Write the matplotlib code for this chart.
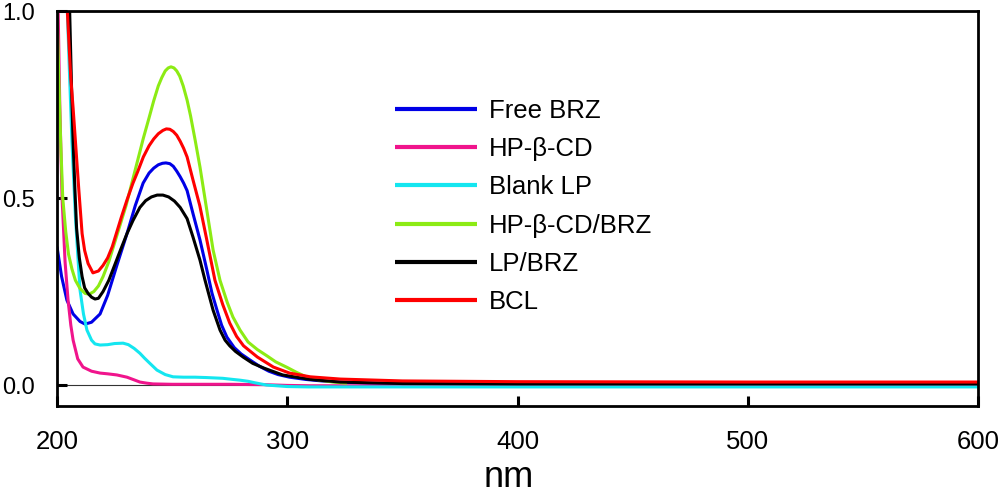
import matplotlib
matplotlib.use("Agg")
import matplotlib.pyplot as plt

plt.rcParams['font.family'] = ['Liberation Sans', 'DejaVu Sans']

# wavelength (nm) / absorbance pairs
free_brz_nm = [200, 202, 204.3, 207, 210, 212.2, 215, 218.7, 222, 226, 230.4, 234, 237.4, 240, 242,
               244, 245.8, 247.3, 249, 250.5, 252, 253.5, 255, 256.5, 259, 262.1, 265, 267.3, 269.5,
               271.5, 273.8, 277, 280, 283.8, 288, 292, 296, 301, 308, 315, 323, 335, 350, 400, 500, 600]
free_brz_abs = [0.37, 0.29, 0.227, 0.19, 0.17, 0.163, 0.168, 0.19, 0.24, 0.32, 0.405, 0.48, 0.54, 0.567, 0.58,
                0.589, 0.593, 0.594, 0.592, 0.585, 0.572, 0.557, 0.54, 0.52, 0.46, 0.388, 0.31, 0.246, 0.2,
                0.16, 0.128, 0.1, 0.083, 0.067, 0.05, 0.037, 0.028, 0.021, 0.015, 0.011, 0.008, 0.005, 0.004,
                0.003, 0.003, 0.003]

hpcd_nm = [200.5, 201.2, 202.2, 203.5, 204.8, 206, 207, 209, 211.3, 215, 218.7, 222, 226, 230.4,
           233, 236, 239, 241.7, 250, 260, 275, 290, 300, 310, 350, 450, 600]
hpcd_abs = [1.0, 0.75, 0.5, 0.33, 0.227, 0.16, 0.12, 0.07, 0.048, 0.037, 0.032, 0.03, 0.027, 0.021,
            0.015, 0.008, 0.005, 0.003, 0.002, 0.002, 0.002, 0.001, -0.001, -0.002, -0.002, -0.002, -0.002]

blank_lp_nm = [204.5, 205.5, 206.5, 208, 209, 210, 211.5, 213, 215, 216.5, 218.7, 222, 225, 228.7,
               231, 233.5, 236, 238, 240, 243.4, 247, 250.4, 255, 260, 265, 272, 276.4, 279.5,
               283, 286, 291, 300, 309, 350, 450, 600]
blank_lp_abs = [1.0, 0.82, 0.65, 0.45, 0.35, 0.254, 0.19, 0.147, 0.12, 0.11, 0.107, 0.108, 0.111, 0.112,
                0.108, 0.098, 0.085, 0.072, 0.06, 0.04, 0.028, 0.022, 0.021, 0.021, 0.02, 0.018, 0.015, 0.013,
                0.01, 0.006, 0.0, -0.004, -0.005, -0.005, -0.005, -0.005]

hpcd_brz_nm = [200, 200.8, 201.6, 202.5, 203.8, 205, 206.5, 208, 210, 212.2, 214, 216, 218, 220, 222.5,
               225, 227.5, 230, 232.5, 235, 237.5, 240, 242, 244, 245.5, 247, 248.3, 249.5, 250.8,
               252, 253.3, 254.8, 256.5, 258, 260, 262.1, 265, 267.8, 270.8, 274, 276.4, 279.5, 283,
               287, 291.2, 295, 300, 304, 308.6, 314, 320, 326]
hpcd_brz_abs = [1.0, 0.82, 0.65, 0.5, 0.41, 0.35, 0.31, 0.28, 0.258, 0.245, 0.243, 0.25, 0.265, 0.29, 0.33,
                0.38, 0.43, 0.48, 0.54, 0.6, 0.66, 0.715, 0.76, 0.8, 0.822, 0.84, 0.848, 0.851, 0.848,
                0.84, 0.826, 0.8, 0.762, 0.72, 0.655, 0.583, 0.47, 0.361, 0.28, 0.22, 0.182, 0.147, 0.115,
                0.095, 0.078, 0.062, 0.047, 0.034, 0.021, 0.013, 0.008, 0.005]

lp_brz_nm = [205.5, 206.3, 207, 207.8, 208.5, 209.7, 210.9, 212, 213.5, 215, 216.5, 218, 220, 222.5,
             225, 227.5, 230.4, 233, 236, 238.5, 241, 243.5, 246, 248.5, 251, 253.5, 256.5, 259,
             262.1, 264.3, 267.8, 270.8, 273, 275, 277.5, 280.8, 285, 290, 298, 310, 323, 350, 400, 500, 600]
lp_brz_abs = [1.0, 0.8, 0.65, 0.52, 0.42, 0.34, 0.29, 0.26, 0.245, 0.235, 0.23, 0.232, 0.25, 0.28,
              0.32, 0.36, 0.405, 0.44, 0.475, 0.493, 0.503, 0.508, 0.508, 0.503, 0.492, 0.475, 0.445, 0.397,
              0.334, 0.28, 0.2, 0.147, 0.12, 0.105, 0.09, 0.075, 0.058, 0.045, 0.027, 0.015, 0.008, 0.004,
              0.003, 0.003, 0.003]

bcl_nm = [204.5, 205.3, 206, 207, 207.8, 208.7, 209.5, 210.9, 212, 213.5, 215.6, 218, 220, 222,
          224, 226, 228, 230.4, 233, 235, 237.5, 240, 242, 244, 246, 247.5, 249, 250.5, 252,
          253.5, 255, 256.5, 259, 262, 265, 268.6, 272, 275, 278, 281, 287, 294, 301, 310, 323,
          350, 400, 500, 600]
bcl_abs = [1.0, 0.9, 0.82, 0.74, 0.67, 0.59, 0.52, 0.405, 0.36, 0.325, 0.3, 0.305, 0.32, 0.34,
           0.37, 0.41, 0.45, 0.495, 0.54, 0.57, 0.61, 0.64, 0.658, 0.672, 0.681, 0.685, 0.684, 0.678,
           0.668, 0.652, 0.633, 0.61, 0.55, 0.48, 0.39, 0.28, 0.215, 0.166, 0.13, 0.105, 0.075, 0.048,
           0.032, 0.022, 0.016, 0.011, 0.009, 0.008, 0.008]

x_ticks = [200, 300, 400, 500, 600]
y_ticks = [0.0, 0.5, 1.0]

series = [
    ("Free BRZ", free_brz_nm, free_brz_abs, "#0000e6"),
    ("HP-β-CD", hpcd_nm, hpcd_abs, "#f0148c"),
    ("Blank LP", blank_lp_nm, blank_lp_abs, "#14e6f0"),
    ("HP-β-CD/BRZ", hpcd_brz_nm, hpcd_brz_abs, "#8ceb14"),
    ("LP/BRZ", lp_brz_nm, lp_brz_abs, "#000000"),
    ("BCL", bcl_nm, bcl_abs, "#ff0000"),
]

fig = plt.figure(figsize=(10, 4.93), dpi=100)
ax = fig.add_axes([0.057, 0.1765, 0.921, 0.801])

ax.axhline(0, color="#333333", lw=0.8, zorder=1)

for name, xs, ys, col in series:
    ax.plot(xs, ys, color=col, lw=2.2, label=name, solid_capstyle="butt")

ax.set_xlim(200, 600)
ax.set_ylim(-0.056, 1.0)
ax.set_xticks(x_ticks)
ax.set_yticks(y_ticks)
ax.set_yticklabels([f"{v:.1f}" for v in y_ticks])

for sp in ax.spines.values():
    sp.set_linewidth(2.0)

ax.tick_params(axis="both", direction="in", length=7, width=2.2)
ax.tick_params(axis="x", labelsize=18.5, pad=17)
ax.tick_params(axis="y", labelsize=17, pad=16)

# axis title sits right at the bottom edge in the original
ax.set_xlabel("nm", fontsize=26)
ax.xaxis.label.set_va("baseline")
ax.xaxis.set_label_coords(0.49, -(487 - 406) / 395)

leg = ax.legend(loc="upper left", bbox_to_anchor=(0.367, 0.777), frameon=False,
                fontsize=18.5, handlelength=3.2, handletextpad=0.45, labelspacing=0.55,
                borderpad=0, borderaxespad=0)
for line in leg.get_lines():
    line.set_linewidth(3)

fig.savefig("out.png", dpi=100)
